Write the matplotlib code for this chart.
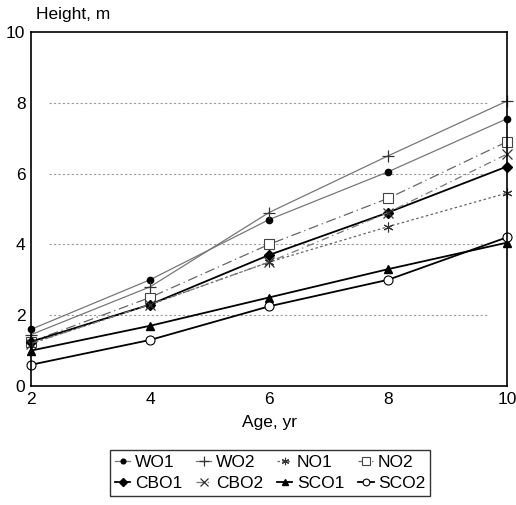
import matplotlib
matplotlib.use("Agg")
import matplotlib.pyplot as plt

plt.rcParams["font.family"] = ["Liberation Sans", "DejaVu Sans"]

AGE = [2, 4, 6, 8, 10]
WO1 = [1.6, 3.0, 4.7, 6.05, 7.55]
WO2 = [1.45, 2.8, 4.9, 6.5, 8.05]
NO1 = [1.2, 2.3, 3.5, 4.5, 5.45]
NO2 = [1.25, 2.5, 4.0, 5.3, 6.9]
CBO1 = [1.25, 2.3, 3.7, 4.9, 6.2]
CBO2 = [1.2, 2.3, 3.5, 4.9, 6.55]
SCO1 = [1.0, 1.7, 2.5, 3.3, 4.05]
SCO2 = [0.6, 1.3, 2.25, 3.0, 4.2]

SERIES = [
    ("WO1", WO1, dict(color="#777777", lw=0.9, ls="-", marker="o", ms=4.5, mfc="black", mec="black")),
    ("WO2", WO2, dict(color="#777777", lw=0.9, ls="-", marker="+", ms=9, mec="#333333", mew=0.9)),
    ("NO1", NO1, dict(color="#666666", lw=0.9, ls=(0, (2, 2)), marker=(6, 2, 0), ms=7, mec="#333333", mew=0.8)),
    ("NO2", NO2, dict(color="#666666", lw=0.9, ls=(0, (8, 3, 1, 3)), marker="s", ms=7, mfc="white", mec="#444444", mew=0.8)),
    ("CBO1", CBO1, dict(color="black", lw=1.3, ls="-", marker="D", ms=5, mfc="black", mec="black")),
    ("CBO2", CBO2, dict(color="#777777", lw=0.9, ls=(0, (6, 3, 1, 3)), marker="x", ms=7, mec="#333333", mew=0.9)),
    ("SCO1", SCO1, dict(color="black", lw=1.3, ls="-", marker="^", ms=6, mfc="black", mec="black")),
    ("SCO2", SCO2, dict(color="black", lw=1.3, ls="-", marker="o", ms=6.5, mfc="white", mec="black", mew=0.8)),
]

fig = plt.figure(figsize=(5.16, 5.05), dpi=100)
ax = fig.add_axes([31 / 516, 1 - 386 / 505, 476 / 516, 354 / 505])

for yv in [2, 4, 6, 8]:
    ax.plot([2.3, 9.7], [yv, yv], color="#999999", lw=0.8, ls=(0, (2, 2)), zorder=0)

lines = {}
for name, vals, style in SERIES:
    lines[name] = ax.plot(AGE, vals, label=name, clip_on=False, **style)[0]

ax.set_xlim(2, 10)
ax.set_ylim(0, 10)
ax.set_xticks(AGE)
ax.set_yticks([0, 2, 4, 6, 8, 10])
ax.tick_params(direction="in", length=0, labelsize=12.5, pad=4)
for s in ax.spines.values():
    s.set_linewidth(1.2)

fig.text(36 / 516, 1 - 14 / 505, "Height, m", fontsize=12.5, ha="left", va="center")
ax.set_xlabel("Age, yr", fontsize=12.5, labelpad=6)

# matplotlib fills legend columns first, so reorder to read row by row
order = ["WO1", "CBO1", "WO2", "CBO2", "NO1", "SCO1", "NO2", "SCO2"]
leg = fig.legend([lines[n] for n in order], order, loc="center",
                 bbox_to_anchor=(270 / 516, 1 - 473 / 505), ncol=4,
                 fontsize=12.5, frameon=True, fancybox=False, edgecolor="black",
                 handlelength=0.9, handletextpad=0.25, columnspacing=0.8,
                 labelspacing=0.3, borderpad=0.3, markerscale=0.75)
leg.get_frame().set_linewidth(1.0)

fig.savefig("out.png", dpi=100, facecolor="white")
